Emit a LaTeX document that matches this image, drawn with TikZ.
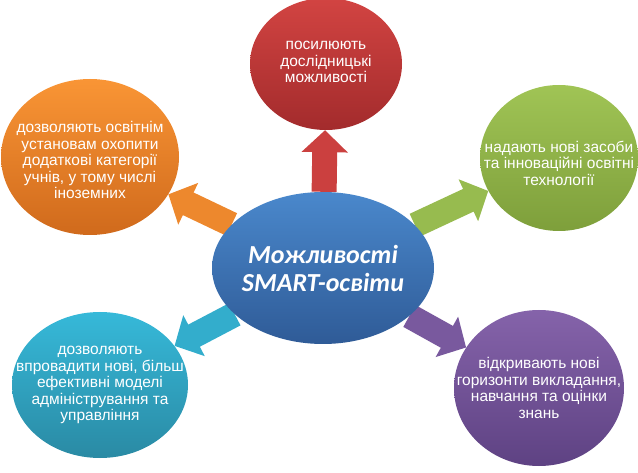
\documentclass[tikz,border=0pt]{standalone}
\usepackage{fontspec}
\setmainfont{Liberation Sans}
\newfontfamily\carlito{Carlito}
\usetikzlibrary{arrows.meta,shapes.geometric,backgrounds}
\definecolor{blueT}{HTML}{4A88CC}
\definecolor{blueB}{HTML}{2F5B97}
\definecolor{redT}{HTML}{D24442}
\definecolor{redB}{HTML}{A32B2C}
\definecolor{orgT}{HTML}{F99535}
\definecolor{orgB}{HTML}{D06A1C}
\definecolor{grnT}{HTML}{A0C455}
\definecolor{grnB}{HTML}{7E9F3B}
\definecolor{tealT}{HTML}{36B9D9}
\definecolor{tealB}{HTML}{2A8AA4}
\definecolor{purT}{HTML}{8563AA}
\definecolor{purB}{HTML}{5E4283}

\begin{document}
\begin{tikzpicture}[x=1pt, y=-1pt,
  bubble/.style={ellipse, inner sep=0pt},
  txt/.style={font=\fontsize{15.5}{16.5}\selectfont, text=white, align=center, inner sep=0pt},
  arr/.style={line width=25pt, -{Triangle[width=45pt,length=22pt]}}
]
  \useasboundingbox (0,0) rectangle (638,473);
  \node[bubble, minimum width=222pt, minimum height=152pt, top color=blueT, bottom color=blueB,
        label={[txt, font=\carlito\bfseries\itshape\fontsize{26}{28}\selectfont]center:Можливості\\SMART-освіти}]
        (smart) at (323,268) {};
  \node[bubble, minimum width=152pt, minimum height=132pt, top color=redT, bottom color=redB,
        label={[txt, yshift=2pt]center:посилюють\\дослідницькі\\можливості}]
        (resrch) at (326,64) {};
  \node[bubble, minimum width=178pt, minimum height=156pt, top color=orgT, bottom color=orgB,
        label={[txt, yshift=-3pt]center:дозволяють освітнім\\установам охопити\\додаткові категорії\\учнів, у тому числі\\іноземних}]
        (reach) at (90,157) {};
  \node[bubble, minimum width=158pt, minimum height=146pt, top color=grnT, bottom color=grnB,
        label={[txt, yshift=-5pt]center:надають нові засоби\\та інноваційні освітні\\технології}]
        (tools) at (559,158) {};
  \node[bubble, minimum width=176pt, minimum height=146pt, top color=tealT, bottom color=tealB,
        label={[txt]center:дозволяють\\впровадити нові, більш\\ефективні моделі\\адміністрування та\\управління}]
        (admin) at (100,385) {};
  \node[bubble, minimum width=170pt, minimum height=156pt, top color=purT, bottom color=purB,
        label={[txt]center:відкривають нові\\горизонти викладання,\\навчання та оцінки\\знань}]
        (teach) at (539,388) {};
  \begin{scope}[on background layer]
    \draw[arr, redT!85!redB] (smart) -- (resrch);
    \draw[arr, orgT!70!orgB] (smart) -- (reach);
    \draw[arr, grnT!75!grnB] (smart) -- (tools);
    \draw[arr, tealT!75!tealB] (smart) -- (admin);
    \draw[arr, purT!70!purB] (smart) -- (teach);
  \end{scope}
\end{tikzpicture}
\end{document}
